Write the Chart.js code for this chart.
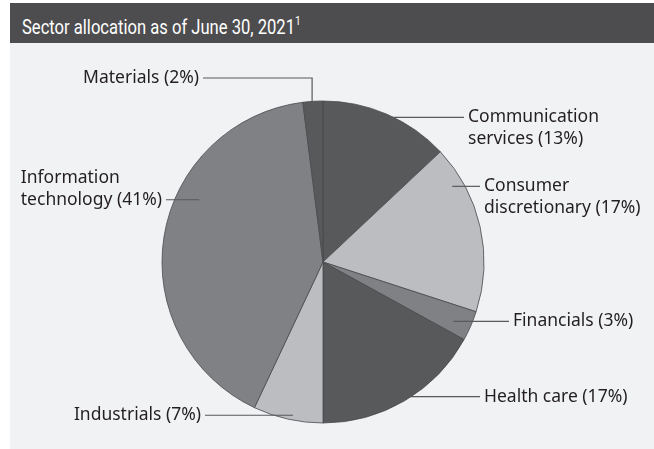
<!DOCTYPE html>
<html>
<head>
<meta charset="utf-8">
<title>Sector allocation</title>
<script src="https://cdn.jsdelivr.net/npm/chart.js@4.4.0/dist/chart.umd.min.js"></script>
<style>
    html, body { margin: 0; padding: 0; background: #fff; }
    #wrap { position: absolute; left: 10px; top: 3px; width: 644px; height: 446px; }
    #title {
        height: 40px;
        background: #4d4d4f;
        color: #fff;
        font-family: "Roboto", sans-serif;
        font-size: 21px;
        line-height: 48px;
        padding-left: 12px;
        box-sizing: border-box;
        white-space: nowrap;
        overflow: hidden;
    }
    #title span { display: inline-block; transform: scaleX(0.79); transform-origin: 0 50%; }
    #title sup { font-size: 13px; vertical-align: 9px; line-height: 0; }
    .chart-container { position: relative; width: 644px; height: 406px; background: #f1f2f4; }
</style>
</head>
<body>
<div id="wrap">
    <div id="title"><span>Sector allocation as of June 30, 2021<sup>1</sup></span></div>
    <div class="chart-container">
        <canvas id="sectorChart"></canvas>
    </div>
</div>
<script>
// Sectors, clockwise from 12 o'clock ("\n" marks where the label wraps)
const labels = [
    'Communication\nservices',
    'Consumer\ndiscretionary',
    'Financials',
    'Health care',
    'Industrials',
    'Information\ntechnology',
    'Materials'
];
const shares = [13, 17, 3, 17, 7, 41, 2];

const sliceColors = ['#58595b', '#bcbdc0', '#808184', '#58595b', '#bcbdc0', '#808184', '#58595b'];

// Where each leader line starts (fraction along the slice, fraction of radius)
// and where it ends, in px from the pie centre
const labelLayout = [
    { frac: 0.44, depth: 0.96, endX: 141 },
    { frac: 0.21, depth: 0.93, endX: 157 },
    { frac: 0.60, depth: 0.89, endX: 186 },
    { frac: 0.575, depth: 0.93, endX: 157 },
    { frac: 0.44, depth: 0.97, endX: -118 },
    { frac: 0.62, depth: 0.86, endX: -157 },
    { frac: 0.42, depth: 0.93, endX: -120, elbowY: -184 }
];

const leaderLines = {
    id: 'leaderLines',
    afterDatasetsDraw(chart) {
        const ctx = chart.ctx;
        const arcs = chart.getDatasetMeta(0).data;
        ctx.save();
        ctx.font = '17.5px "Noto Sans", sans-serif';
        ctx.fillStyle = '#231f20';
        ctx.textBaseline = 'middle';
        ctx.textAlign = 'left';
        ctx.strokeStyle = '#58595b';
        ctx.lineWidth = 1.2;
        arcs.forEach((arc, i) => {
            const p = arc.getProps(['x', 'y', 'startAngle', 'endAngle', 'outerRadius'], true);
            const lay = labelLayout[i];
            const a = p.startAngle + lay.frac * (p.endAngle - p.startAngle);
            const r = p.outerRadius * lay.depth;
            const ax = p.x + Math.cos(a) * r;
            const ay = p.y + Math.sin(a) * r;
            const ex = p.x + lay.endX;
            const ey = lay.elbowY !== undefined ? p.y + lay.elbowY : ay;

            ctx.beginPath();
            ctx.moveTo(ax, ay);
            if (lay.elbowY !== undefined) ctx.lineTo(ax, ey);
            ctx.lineTo(ex, ey);
            ctx.stroke();

            const lines = (labels[i] + ' (' + shares[i] + '%)').split('\n');
            const right = lay.endX > 0;
            // left-hand blocks are flush left, with their widest line ending at the leader
            const blockW = Math.max(...lines.map(t => ctx.measureText(t).width));
            const tx = right ? ex + 4 : ex - 4 - blockW;
            // right side: first line sits on the leader; left side: last line does
            const y0 = right ? ey : ey - (lines.length - 1) * 22;
            lines.forEach((t, k) => ctx.fillText(t, tx, y0 + k * 22));
        });
        ctx.restore();
    }
};

document.addEventListener('DOMContentLoaded', function() {
    const ctx = document.getElementById('sectorChart').getContext('2d');
    window.currentChart = new Chart(ctx, {
        type: 'pie',
        data: {
            labels: labels,
            datasets: [{
                data: shares,
                backgroundColor: sliceColors,
                borderColor: '#4a4a4c',
                borderWidth: 0.8
            }]
        },
        options: {
            responsive: true,
            maintainAspectRatio: false,
            animation: false,
            radius: 161,
            layout: {
                padding: { left: 152, right: 170, top: 58, bottom: 26 }
            },
            plugins: {
                legend: { display: false },
                tooltip: { enabled: false }
            }
        },
        plugins: [leaderLines]
    });
});
</script>
</body>
</html>
